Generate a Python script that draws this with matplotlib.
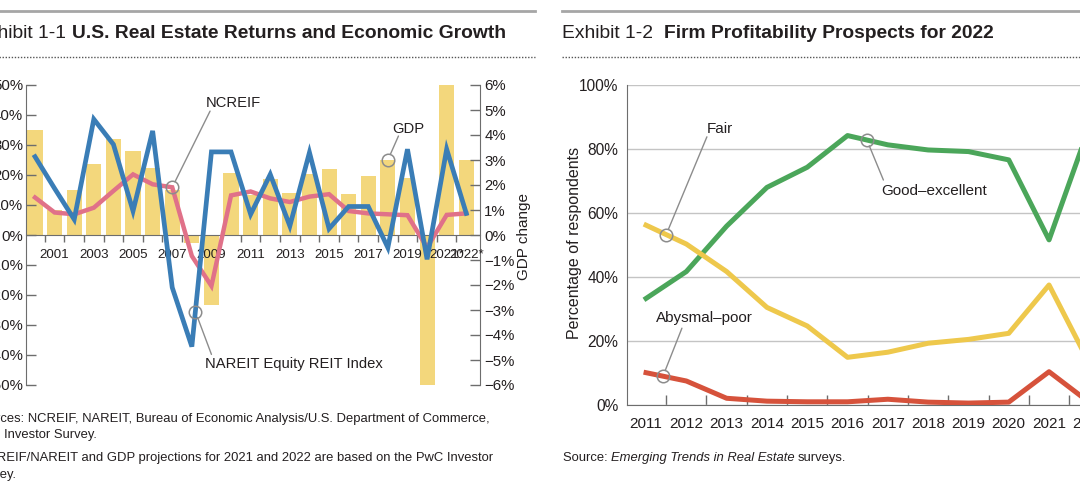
import numpy as np
import matplotlib
matplotlib.use("Agg")
import matplotlib.pyplot as plt
from matplotlib import font_manager
from matplotlib.lines import Line2D

# ---- data: Exhibit 1-1 ----
years_a = list(range(2000, 2023))
gdp = [4.2, 1.0, 1.8, 2.85, 3.85, 3.35, 2.7, 1.8, -0.3, -2.8, 2.5, 1.6, 2.25,
       1.7, 2.45, 2.65, 1.65, 2.35, 3.0, 2.3, -6.0, 6.1, 3.0]
ncreif = [12.5, 7.5, 6.9, 9.1, 14.7, 20.2, 16.9, 15.9, -7.0, -17.0, 13.2, 14.5,
          12.2, 11.0, 12.8, 13.6, 8.0, 7.2, 6.9, 6.6, -4.2, 6.7, 7.2]
nareit = [26.1, 15.5, 5.2, 38.6, 30.2, 8.0, 34.7, -17.5, -37.2, 27.7, 27.7, 6.9,
          20.2, 3.0, 27.5, 2.1, 9.5, 9.5, -4.2, 28.6, -8.1, 28.6, 7.2]
xlabels_a = ["2001", "2003", "2005", "2007", "2009", "2011", "2013", "2015",
             "2017", "2019", "2021*", "2022*"]
xticks_a = [2001, 2003, 2005, 2007, 2009, 2011, 2013, 2015, 2017, 2019, 2021, 2022]

# ---- data: Exhibit 1-2 ----
years_b = list(range(2011, 2023))
good = [33.3, 41.7, 55.9, 68.0, 74.3, 84.2, 81.3, 79.7, 79.2, 76.6, 51.6, 87.0]
fair = [56.2, 50.3, 41.7, 30.5, 24.7, 14.9, 16.5, 19.3, 20.5, 22.4, 37.5, 13.0]
poor = [10.1, 7.5, 2.1, 1.2, 1.0, 1.0, 1.8, 0.9, 0.6, 0.9, 10.4, 0.8]

# fonts (condensed face if there is one, else plain)
names = {f.name for f in font_manager.fontManager.ttflist}
REG = "Liberation Sans" if "Liberation Sans" in names else "DejaVu Sans"
NARROW = "Liberation Sans Narrow" if "Liberation Sans Narrow" in names else REG
plt.rcParams["font.family"] = [REG, "DejaVu Sans"]

W, H = 1080, 482
fig = plt.figure(figsize=(W / 100, H / 100), dpi=100)


def fx(px):
    return px / W


def fy(py):
    return 1 - py / H


TXT = "#231f20"
AX = "#6d6d6d"
NOTE = 9.4

# rules and titles
for x0, x1 in [(-10, 535), (562, 1090)]:
    fig.add_artist(Line2D([fx(x0), fx(x1)], [fy(11), fy(11)], color="#a6a6a6", lw=2))
    fig.add_artist(Line2D([fx(x0), fx(x1)], [fy(57), fy(57)], color="#555555",
                          lw=1, linestyle=(0, (1, 1.2))))

fig.text(fx(66), fy(33), "Exhibit 1-1", ha="right", va="center", fontsize=13.9, color=TXT)
fig.text(fx(72), fy(33), "U.S. Real Estate Returns and Economic Growth", ha="left",
         va="center", fontsize=13.9, fontweight="bold", color=TXT)
fig.text(fx(653), fy(33), "Exhibit 1-2", ha="right", va="center", fontsize=13.9, color=TXT)
fig.text(fx(664), fy(33), "Firm Profitability Prospects for 2022", ha="left",
         va="center", fontsize=13.9, fontweight="bold", color=TXT)

# ---------------- Exhibit 1-1 ----------------
ax = fig.add_axes([fx(26), fy(385), fx(480) - fx(26), fy(85) - fy(385)])
ax2 = ax.twinx()
ax.set_zorder(ax2.get_zorder() + 1)
ax.patch.set_visible(False)

ax2.bar(years_a, gdp, width=0.77, color="#f3d77c", zorder=1)
ax2.set_ylim(-6, 6)
ax2.set_yticks(range(-6, 7))
ax2.set_yticklabels([f"{v}%".replace("-", "\u2212") for v in range(-6, 7)],
                    fontfamily=NARROW, fontsize=10.8, color=TXT)
ax2.tick_params(axis="y", direction="in", length=7, width=1, color=AX, pad=3)
for s in ["top", "bottom", "left"]:
    ax2.spines[s].set_visible(False)
ax2.spines["right"].set_color(AX)

ax.plot(years_a, ncreif, color="#e07189", lw=3.2, solid_joinstyle="miter", zorder=3)
ax.plot(years_a, nareit, color="#3a7db6", lw=3.4, solid_joinstyle="miter", zorder=4)
ax.set_xlim(1999.54, 2022.70)
ax.set_ylim(-50, 50)
ax.set_yticks(range(-50, 51, 10))
ax.set_yticklabels([f"{v}%".replace("-", "\u2212") for v in range(-50, 51, 10)],
                   fontfamily=NARROW, fontsize=10.8, color=TXT)
ax.tick_params(axis="y", direction="in", length=7, width=1, color=AX, pad=2)
ax.spines["bottom"].set_position(("data", 0))
ax.spines["bottom"].set_color(AX)
ax.spines["bottom"].set_zorder(2)
ax.spines["left"].set_color(AX)
ax.spines["top"].set_visible(False)
ax.spines["right"].set_visible(False)
ax.set_xticks(xticks_a)
ax.set_xticklabels(xlabels_a, fontfamily=NARROW, fontsize=9.6, color=TXT)
ax.set_xticks(np.arange(2000.5, 2022.5, 1), minor=True)
ax.tick_params(axis="x", which="major", length=0, pad=10)
ax.tick_params(axis="x", which="minor", direction="out", length=5, width=1, color=AX)

CIRC = dict(marker="o", markersize=9, mfc="none", mec="#8c8c8c", mew=1.1, ls="none", zorder=6)
LEAD = dict(arrowstyle="-", color="#8c8c8c", lw=1, shrinkA=0, shrinkB=4.5)

# NCREIF callout
cx, cy = 2007, ncreif[years_a.index(2007)]
ax.plot([cx], [cy], **CIRC)
ax.annotate("", xy=(cx, cy), xytext=(2008.93, 41.3), arrowprops=LEAD)
ax.text(2010.1, 44.1, "NCREIF", ha="center", va="center", fontsize=10.6, color=TXT)
# NAREIT callout
cx = 2008.18
cy = np.interp(cx, years_a, nareit)
ax.plot([cx], [cy], **CIRC)
ax.annotate("", xy=(cx, cy), xytext=(2009.0, -39.8), arrowprops=LEAD)
ax.text(2008.67, -43.1, "NAREIT Equity REIT Index", ha="left", va="center",
        fontsize=10.6, color=TXT)
# GDP callout
cx, cy = 2018, gdp[years_a.index(2018)]
ax2.plot([cx], [cy], **CIRC)
ax2.annotate("", xy=(cx, cy), xytext=(2018.54, 33 * 6 / 50), arrowprops=LEAD)
ax.text(2019.03, 35.2, "GDP", ha="center", va="center", fontsize=10.6, color=TXT)

fig.text(fx(524), fy(237), "GDP change", rotation=90, ha="center", va="center",
         fontsize=11, color=TXT)

notes = ["Sources: NCREIF, NAREIT, Bureau of Economic Analysis/U.S. Department of Commerce,",
         "PwC Investor Survey.",
         "*NCREIF/NAREIT and GDP projections for 2021 and 2022 are based on the PwC Investor",
         "Survey."]
for t, py in zip(notes, [419, 435, 458, 475]):
    fig.text(fx(-27), fy(py), t, ha="left", va="center", fontsize=NOTE, color=TXT)

# ---------------- Exhibit 1-2 ----------------
bx = fig.add_axes([fx(626.7), fy(405), fx(12.08 * 40.3), fy(85) - fy(405)])
bx.plot(years_b, good, color="#4ba65a", lw=3.6, zorder=3)
bx.plot(years_b, fair, color="#eec84c", lw=3.6, zorder=3)
bx.plot(years_b, poor, color="#d6523b", lw=3.6, zorder=3)
bx.set_xlim(2010.52, 2022.6)
bx.set_ylim(0, 100)
bx.set_yticks(range(0, 101, 20))
bx.set_yticklabels([f"{v}%" for v in range(0, 101, 20)], fontfamily=NARROW,
                   fontsize=11.2, color=TXT)
bx.tick_params(axis="y", length=0, pad=6)
bx.grid(axis="y", color="#c4c4c4", lw=1)
bx.set_axisbelow(True)
bx.set_xticks(years_b)
bx.set_xticklabels([str(y) for y in years_b], fontfamily=NARROW, fontsize=11, color=TXT)
bx.set_xticks(np.arange(2011.5, 2022.5, 1), minor=True)
bx.tick_params(axis="x", which="major", length=0, pad=9)
bx.tick_params(axis="x", which="minor", direction="in", length=7, width=1, color=AX)
for s in ["top", "right"]:
    bx.spines[s].set_visible(False)
bx.spines["left"].set_color(AX)
bx.spines["bottom"].set_color(AX)

cx = 2011.5
cy = np.interp(cx, years_b, fair)
bx.plot([cx], [cy], **CIRC)
bx.annotate("", xy=(cx, cy), xytext=(2012.51, 83.8), arrowprops=LEAD)
bx.text(2012.84, 86.2, "Fair", ha="center", va="center", fontsize=11, color=TXT)

cx = 2011.42
cy = np.interp(cx, years_b, poor)
bx.plot([cx], [cy], **CIRC)
bx.annotate("", xy=(cx, cy), xytext=(2011.89, 24.0), arrowprops=LEAD)
bx.text(2012.46, 27.1, "Abysmal\u2013poor", ha="center", va="center", fontsize=11, color=TXT)

cx = 2016.48
cy = np.interp(cx, years_b, good)
bx.plot([cx], [cy], **CIRC)
bx.annotate("", xy=(cx, cy), xytext=(2016.89, 70.3), arrowprops=LEAD)
bx.text(2018.15, 67.0, "Good\u2013excellent", ha="center", va="center", fontsize=11, color=TXT)

fig.text(fx(575), fy(243), "Percentage of respondents", rotation=90, ha="center",
         va="center", fontsize=11.5, color=TXT)

# source line with the italic title in the middle
r = fig.canvas.get_renderer()
t1 = fig.text(fx(563), fy(458), "Source: ", ha="left", va="center", fontsize=NOTE, color=TXT)
x = t1.get_window_extent(r).x1
t2 = fig.text(x / W, fy(458), "Emerging Trends in Real Estate", ha="left", va="center",
              fontsize=NOTE, style="italic", color=TXT)
x = t2.get_window_extent(r).x1
fig.text(x / W + fx(3), fy(458), "surveys.", ha="left", va="center", fontsize=NOTE, color=TXT)

fig.savefig("out.png", dpi=100)
